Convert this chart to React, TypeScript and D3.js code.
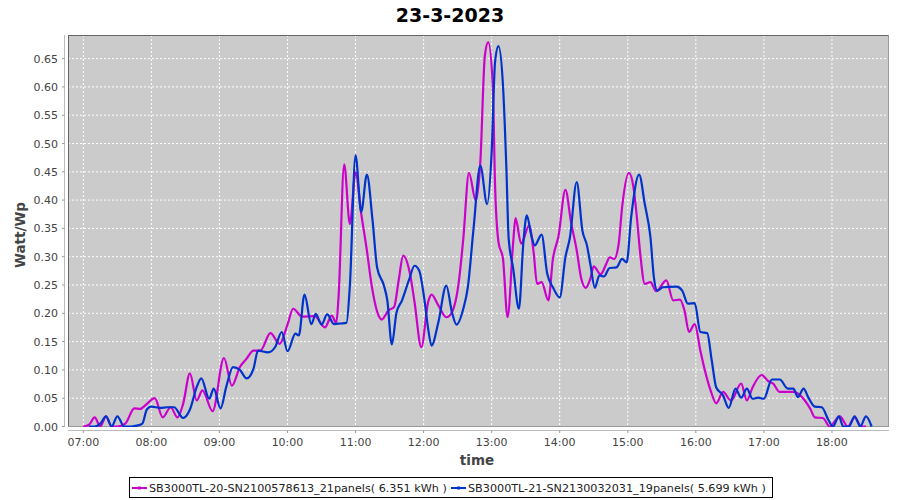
import React from "react";
import * as d3 from "d3";

const title = "23-3-2023";
const yLabel = "Watt/Wp";
const xLabel = "time";
const seriesNames = [
  "SB3000TL-20-SN2100578613_21panels( 6.351 kWh )",
  "SB3000TL-21-SN2130032031_19panels( 5.699 kWh )",
];
const seriesColors = ["#cc00cc", "#0033cc"];

const xTickLabels = ["07:00","08:00","09:00","10:00","11:00","12:00","13:00","14:00","15:00","16:00","17:00","18:00"];
const yTickValues = [0,0.05,0.1,0.15,0.2,0.25,0.3,0.35,0.4,0.45,0.5,0.55,0.6,0.65];

const magentaTimes = ["07:00","07:05","07:10","07:15","07:20","07:25","07:30","07:37","07:45","07:50","07:55","08:03","08:10","08:17","08:23","08:28","08:34","08:40","08:45","08:54","09:04","09:11","09:18","09:24","09:30","09:36","09:45","09:53","10:00","10:05","10:13","10:24","10:33","10:39","10:43","10:45","10:50","10:55","11:00","11:05","11:10","11:14","11:21","11:23","11:29","11:34","11:38","11:42","11:48","11:52","11:58","12:04","12:07","12:13","12:20","12:25","12:31","12:35","12:40","12:46","12:50","12:54","12:57","13:01","13:03","13:06","13:10","13:14","13:19","13:21","13:26","13:33","13:37","13:40","13:44","13:50","13:54","13:59","14:05","14:10","14:15","14:19","14:23","14:27","14:30","14:36","14:41","14:44","14:48","14:52","14:55","15:01","15:05","15:08","15:11","15:15","15:20","15:25","15:34","15:40","15:46","15:50","15:54","15:59","16:04","16:08","16:13","16:18","16:24","16:31","16:40","16:45","16:50","16:58","17:04","17:08","17:14","17:26","17:32","17:41","17:45","17:52","17:58","18:07","18:14","18:20","18:26","18:30"];
const magentaValues = [0,0.003,0.016,0,0.018,0,0,0.005,0.032,0.031,0.038,0.05,0.016,0.034,0.016,0.04,0.094,0.046,0.064,0.027,0.121,0.072,0.105,0.12,0.134,0.134,0.165,0.146,0.18,0.208,0.194,0.195,0.175,0.196,0.183,0.228,0.463,0.358,0.449,0.376,0.311,0.252,0.193,0.189,0.205,0.211,0.258,0.302,0.27,0.22,0.14,0.22,0.233,0.214,0.193,0.202,0.255,0.332,0.448,0.399,0.467,0.655,0.679,0.602,0.426,0.326,0.296,0.193,0.326,0.368,0.323,0.355,0.308,0.252,0.255,0.223,0.296,0.337,0.418,0.361,0.311,0.261,0.245,0.261,0.283,0.269,0.287,0.299,0.296,0.323,0.387,0.448,0.423,0.37,0.305,0.252,0.255,0.239,0.258,0.223,0.224,0.205,0.167,0.181,0.134,0.099,0.064,0.041,0.061,0.046,0.076,0.046,0.069,0.091,0.08,0.076,0.061,0.061,0.055,0.031,0.016,0.015,0,0.018,0,0.016,0,0];

const blueTimes = ["07:05","07:10","07:15","07:20","07:25","07:30","07:36","07:42","07:48","07:52","07:56","08:00","08:08","08:14","08:20","08:28","08:34","08:40","08:44","08:51","08:55","09:01","09:06","09:12","09:18","09:24","09:30","09:34","09:43","09:49","09:55","10:00","10:07","10:10","10:15","10:21","10:25","10:30","10:35","10:41","10:47","10:52","10:55","11:00","11:05","11:10","11:15","11:19","11:25","11:28","11:32","11:36","11:41","11:47","11:52","11:56","12:01","12:04","12:07","12:13","12:20","12:25","12:29","12:35","12:39","12:44","12:50","12:56","13:00","13:03","13:06","13:10","13:13","13:15","13:19","13:24","13:28","13:31","13:35","13:38","13:44","13:49","13:54","14:00","14:05","14:09","14:15","14:20","14:24","14:27","14:31","14:35","14:39","14:44","14:50","14:55","14:59","15:03","15:10","15:15","15:20","15:23","15:26","15:31","15:43","15:48","15:53","15:59","16:04","16:10","16:14","16:18","16:24","16:29","16:35","16:40","16:45","16:50","16:55","17:00","17:07","17:14","17:21","17:26","17:30","17:35","17:39","17:45","17:51","17:57","18:01","18:06","18:10","18:15","18:20","18:25","18:30","18:35"];
const blueValues = [0,0,0.005,0.018,0,0.018,0,0,0.002,0.005,0.03,0.035,0.033,0.034,0.034,0.015,0.03,0.07,0.085,0.049,0.067,0.032,0.07,0.105,0.1,0.085,0.102,0.134,0.131,0.14,0.167,0.133,0.164,0.161,0.233,0.181,0.199,0.18,0.198,0.181,0.182,0.183,0.249,0.479,0.379,0.445,0.364,0.281,0.249,0.223,0.145,0.2,0.223,0.258,0.284,0.276,0.22,0.173,0.143,0.184,0.249,0.202,0.18,0.208,0.246,0.349,0.461,0.393,0.485,0.644,0.672,0.602,0.455,0.332,0.279,0.208,0.326,0.373,0.337,0.32,0.339,0.27,0.246,0.228,0.299,0.334,0.432,0.346,0.32,0.287,0.245,0.267,0.265,0.28,0.281,0.296,0.29,0.37,0.445,0.393,0.334,0.264,0.24,0.246,0.247,0.24,0.217,0.218,0.167,0.165,0.117,0.069,0.055,0.033,0.067,0.051,0.067,0.049,0.051,0.049,0.083,0.083,0.067,0.067,0.052,0.067,0.052,0.035,0.034,0.011,0,0.018,0,0,0.018,0,0.018,0];

const toMin = (s: string) => {
  const [h, m] = s.split(":").map(Number);
  return h * 60 + m;
};

const W = 900;
const H = 500;
const plot = { left: 68, right: 889, top: 35, bottom: 427 };
const FONT = "'DejaVu Sans', sans-serif";

export default function App() {
  const x = d3.scaleLinear().domain([406.5, 1130.3]).range([plot.left, plot.right]);
  const y = d3.scaleLinear().domain([0, 0.6917]).range([426.5, plot.top]);

  const series = [
    magentaTimes.map((t, i) => [toMin(t), magentaValues[i]] as [number, number]),
    blueTimes.map((t, i) => [toMin(t), blueValues[i]] as [number, number]),
  ];
  const line = d3
    .line<[number, number]>()
    .x((d) => x(d[0]))
    .y((d) => y(d[1]))
    .curve(d3.curveMonotoneX);

  const xTicks = xTickLabels.map((l) => ({ l, v: toMin(l) }));

  return (
    <svg width={W} height={H} style={{ display: "block", position: "absolute", left: 0, top: 0 }} fontFamily={FONT}>
      <rect x={0} y={0} width={W} height={H} fill="#ffffff" />
      <defs>
        <clipPath id="plotclip">
          <rect x={plot.left} y={plot.top} width={plot.right - plot.left} height={plot.bottom - plot.top} />
        </clipPath>
      </defs>
      <text x={450} y={22} textAnchor="middle" fontSize={19} fontWeight="bold" fill="#000">{title}</text>
      <rect x={plot.left} y={plot.top} width={plot.right - plot.left} height={plot.bottom - plot.top} fill="#cbcbcb" />
      {xTicks.map((t) => (
        <line key={"gx" + t.l} x1={x(t.v)} x2={x(t.v)} y1={plot.top} y2={plot.bottom} stroke="#ffffff" strokeWidth={1} strokeDasharray="2,2" />
      ))}
      {yTickValues.map((v) => (
        <line key={"gy" + v} x1={plot.left} x2={plot.right} y1={y(v)} y2={y(v)} stroke="#ffffff" strokeWidth={1} strokeDasharray="2,2" />
      ))}
      <line x1={plot.left + 0.5} x2={plot.left + 0.5} y1={plot.top} y2={plot.bottom} stroke="#666" />
      <line x1={plot.left} x2={plot.right} y1={plot.top + 0.5} y2={plot.top + 0.5} stroke="#666" />
      <line x1={plot.right - 0.5} x2={plot.right - 0.5} y1={plot.top} y2={plot.bottom} stroke="#999" />
      <line x1={plot.left} x2={plot.right} y1={plot.bottom - 0.5} y2={plot.bottom - 0.5} stroke="#999" />
      <g clipPath="url(#plotclip)">
        {series.map((s, i) => (
          <path key={"s" + i} d={line(s) || ""} fill="none" stroke={seriesColors[i]} strokeWidth={2.2} strokeLinejoin="round" />
        ))}
      </g>
      <line x1={64.5} x2={64.5} y1={plot.top} y2={plot.bottom} stroke="#bbb" />
      {yTickValues.map((v) => (
        <g key={"yt" + v}>
          <line x1={62} x2={64.5} y1={y(v)} y2={y(v)} stroke="#999" />
          <text x={58} y={y(v) + 4} textAnchor="end" fontSize={11} fill="#444">{v.toFixed(2)}</text>
        </g>
      ))}
      <line x1={plot.left} x2={plot.right} y1={430.5} y2={430.5} stroke="#bbb" />
      {xTicks.map((t) => (
        <g key={"xt" + t.l}>
          <line x1={x(t.v)} x2={x(t.v)} y1={430.5} y2={433} stroke="#999" />
          <text x={x(t.v)} y={446} textAnchor="middle" fontSize={11} fill="#444">{t.l}</text>
        </g>
      ))}
      <text x={477} y={465} textAnchor="middle" fontSize={13.5} fontWeight="bold" fill="#444">{xLabel}</text>
      <text transform="translate(25,235) rotate(-90)" textAnchor="middle" fontSize={13.5} fontWeight="bold" fill="#444">{yLabel}</text>
      <rect x={129.5} y={477.5} width={643} height={20} fill="#fff" stroke="#000" />
      {seriesNames.map((n, i) => {
        const lx = i === 0 ? 132 : 451;
        return (
          <g key={"lg" + i}>
            <line x1={lx} x2={lx + 15} y1={488} y2={488} stroke={seriesColors[i]} strokeWidth={2} />
            <rect x={lx + 6} y={486.5} width={3} height={3} fill={seriesColors[i]} />
            <text x={lx + 17} y={492} fontSize={11.2} fill="#222">{n}</text>
          </g>
        );
      })}
    </svg>
  );
}
